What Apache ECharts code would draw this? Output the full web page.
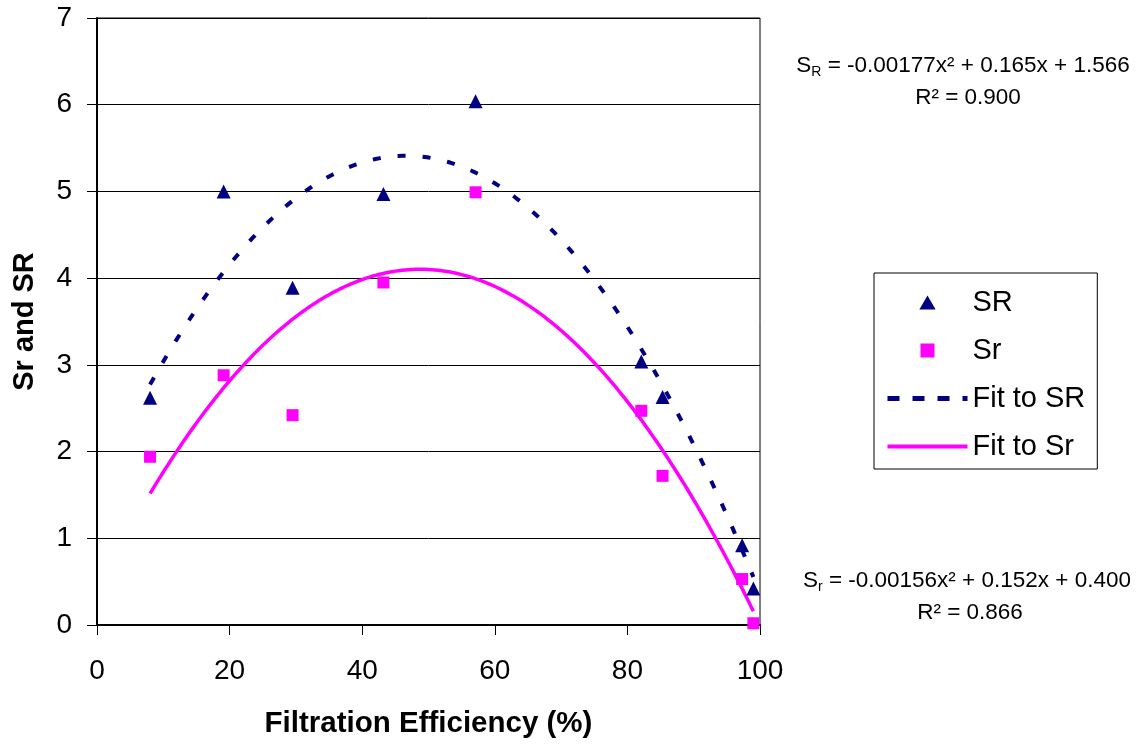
<!DOCTYPE html>
<html>
<head>
<meta charset="utf-8">
<script src="https://cdn.jsdelivr.net/npm/echarts@6/dist/echarts.min.js"></script>
<style>
  html, body { margin: 0; padding: 0; background: #fff; }
  #chart { width: 1145px; height: 745px; }
</style>
</head>
<body>
<div id="chart"></div>
<script>
// Filtration efficiency (%) of each sample
const efficiency = [8.0, 19.1, 29.5, 43.2, 57.1, 82.1, 85.3, 97.3, 99.0];
// Reproducibility SR and repeatability Sr at each efficiency
const valuesSR = [2.62, 5.00, 3.89, 4.97, 6.04, 3.04, 2.63, 0.92, 0.42];
const valuesSr = [1.94, 2.88, 2.42, 3.95, 4.99, 2.47, 1.72, 0.53, 0.02];

// Quadratic fit coefficients [a, b, c] for y = a*x^2 + b*x + c, and R^2
const fitCoefSR = [-0.00177, 0.165, 1.566];
const fitCoefSr = [-0.00156, 0.152, 0.400];
const r2SR = 0.900;
const r2Sr = 0.866;

// Axis ticks
const xTicks = [0, 20, 40, 60, 80, 100];
const yTicks = [0, 1, 2, 3, 4, 5, 6, 7];

const FONT = '"Liberation Sans", Arial, Helvetica, sans-serif';
const NAVY = '#000080';
const MAGENTA = '#FF00FF';
const SR_DASH = [8, 17];

function pairs(xs, ys) {
  return xs.map((x, i) => [x, ys[i]]);
}

// Trend curve evaluated across the measured efficiency range
function trend(coef) {
  const pts = [];
  const x0 = Math.min.apply(null, efficiency);
  const x1 = Math.max.apply(null, efficiency);
  for (let x = x0; x <= x1 + 1e-9; x += 0.5) {
    pts.push([x, coef[0] * x * x + coef[1] * x + coef[2]]);
  }
  return pts;
}

function equationText(sub, coef) {
  return 'S{sub|' + sub + '} = ' + coef[0].toFixed(5) + 'x² + ' +
    coef[1].toFixed(3) + 'x + ' + coef[2].toFixed(3);
}

function eqLabel(x, y, text) {
  return {
    type: 'text', x: x, y: y, z: 100,
    style: {
      text: text,
      fontSize: 22.5, fontFamily: FONT, fill: '#000',
      textAlign: 'center', textVerticalAlign: 'middle',
      align: 'center', verticalAlign: 'middle',
      rich: { sub: { fontSize: 14, fontFamily: FONT, fill: '#000', padding: [12, 0, 0, 0] } }
    }
  };
}

const chart = echarts.init(document.getElementById('chart'), null, { renderer: 'canvas' });

chart.setOption({
  animation: false,
  backgroundColor: '#fff',
  textStyle: { fontFamily: FONT },
  grid: {
    left: 97, right: 385, top: 18, bottom: 120,
    show: true, borderColor: '#000', borderWidth: 1, backgroundColor: '#fff'
  },
  xAxis: {
    type: 'value',
    min: xTicks[0], max: xTicks[xTicks.length - 1],
    interval: xTicks[1] - xTicks[0],
    name: 'Filtration Efficiency (%)',
    nameLocation: 'middle', nameGap: 84,
    nameTextStyle: { fontSize: 29.5, fontWeight: 'bold', color: '#000', fontFamily: FONT },
    axisLine: { lineStyle: { color: '#000', width: 2 } },
    axisTick: { show: true, inside: false, length: 10, lineStyle: { color: '#000', width: 1 } },
    axisLabel: { fontSize: 28, color: '#000', margin: 32, fontFamily: FONT },
    splitLine: { show: false }
  },
  yAxis: {
    type: 'value',
    min: yTicks[0], max: yTicks[yTicks.length - 1],
    interval: yTicks[1] - yTicks[0],
    name: 'Sr and SR',
    nameLocation: 'middle', nameGap: 58,
    nameTextStyle: { fontSize: 29, fontWeight: 'bold', color: '#000', fontFamily: FONT },
    axisLine: { show: true, lineStyle: { color: '#000', width: 2 } },
    axisTick: { show: true, inside: false, length: 10, lineStyle: { color: '#000', width: 1 } },
    axisLabel: { fontSize: 28, color: '#000', margin: 25, fontFamily: FONT },
    splitLine: { show: true, lineStyle: { color: '#000', width: 1 } }
  },
  legend: {
    orient: 'vertical',
    left: 874, top: 273,
    padding: [15, 12, 8, 11],
    itemGap: 19, itemWidth: 80, itemHeight: 14,
    symbolKeepAspect: true,
    borderColor: '#000', borderWidth: 1, backgroundColor: '#fff',
    textStyle: { fontSize: 29, color: '#000', fontFamily: FONT },
    data: [
      { name: 'SR', icon: 'path://M5,0 L10,8.6 L0,8.6 Z', itemStyle: { color: NAVY, opacity: 1 } },
      { name: 'Sr', icon: 'path://M0,0 L10,0 L10,10 L0,10 Z', itemStyle: { color: MAGENTA, opacity: 1 } },
      { name: 'Fit to SR', itemStyle: { opacity: 0 }, lineStyle: { color: NAVY, width: 5, type: [12, 13] } },
      { name: 'Fit to Sr', itemStyle: { opacity: 0 }, lineStyle: { color: MAGENTA, width: 4 } }
    ]
  },
  series: [
    {
      name: 'Fit to SR', type: 'line', data: trend(fitCoefSR),
      showSymbol: false, symbol: 'none', z: 2,
      lineStyle: { color: NAVY, width: 4, type: SR_DASH },
      itemStyle: { color: NAVY }
    },
    {
      name: 'Fit to Sr', type: 'line', data: trend(fitCoefSr),
      showSymbol: false, symbol: 'none', z: 2,
      lineStyle: { color: MAGENTA, width: 3.5 },
      itemStyle: { color: MAGENTA }
    },
    {
      name: 'SR', type: 'scatter', data: pairs(efficiency, valuesSR),
      symbol: 'triangle', symbolSize: 14, z: 3,
      itemStyle: { color: NAVY, opacity: 1 }
    },
    {
      name: 'Sr', type: 'scatter', data: pairs(efficiency, valuesSr),
      symbol: 'rect', symbolSize: 12, z: 3,
      itemStyle: { color: MAGENTA, opacity: 1 }
    }
  ],
  graphic: [
    eqLabel(963, 66, equationText('R', fitCoefSR)),
    eqLabel(968, 98, 'R² = ' + r2SR.toFixed(3)),
    eqLabel(967, 581, equationText('r', fitCoefSr)),
    eqLabel(970, 613, 'R² = ' + r2Sr.toFixed(3))
  ]
});
</script>
</body>
</html>
